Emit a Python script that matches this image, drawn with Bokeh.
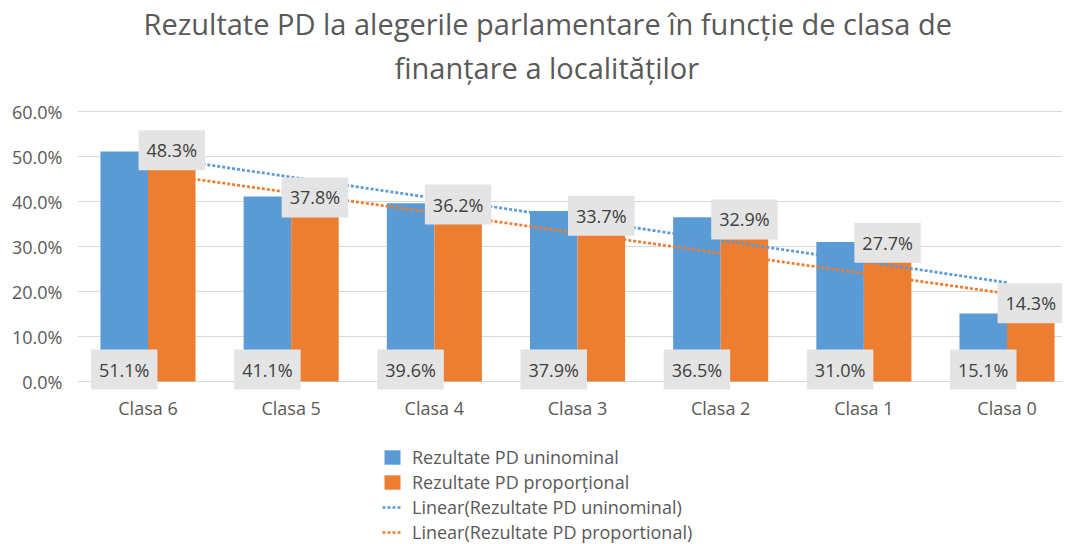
import numpy as np
from bokeh.plotting import figure
from bokeh.layouts import column
from bokeh.models import (ColumnDataSource, Range1d, FixedTicker, PrintfTickFormatter,
                          Legend, LegendItem, Title)
from bokeh.core.properties import value
from bokeh.transform import dodge
from bokeh.embed import file_html
from bokeh.resources import INLINE

categories = ["Clasa 6", "Clasa 5", "Clasa 4", "Clasa 3", "Clasa 2", "Clasa 1", "Clasa 0"]
uninominal = [51.1, 41.1, 39.6, 37.9, 36.5, 31.0, 15.1]
proportional = [48.3, 37.8, 36.2, 33.7, 32.9, 27.7, 14.3]
y_ticks = [0, 10, 20, 30, 40, 50, 60]
title_lines = ["Rezultate PD la alegerile parlamentare în funcție de clasa de",
               "finanțare a localităților"]
series_names = ["Rezultate PD uninominal", "Rezultate PD proporțional",
                "Linear(Rezultate PD uninominal)", "Linear(Rezultate PD proportional)"]

BLUE = "#5b9bd5"
ORANGE = "#ed7d31"
GRID = "#d9d9d9"
TEXT = "#595959"
FONT = "Open Sans"
TITLE_FONT = "Open Sans"

idx = np.arange(len(categories))
# linear trendlines (least squares, like Excel)
b_fit = np.polyfit(idx, uninominal, 1)
o_fit = np.polyfit(idx, proportional, 1)

src = ColumnDataSource(dict(
    x=idx, cat=categories, u=uninominal, p=proportional,
    zero=[0] * len(categories),
    u_lbl=[f"{v:.1f}%" for v in uninominal],
    p_lbl=[f"{v:.1f}%" for v in proportional],
    u_trend=np.polyval(b_fit, idx), p_trend=np.polyval(o_fit, idx),
))

BW = 0.332
W = 1062
p = figure(width=W, height=430, output_backend="svg", toolbar_location=None,
           x_range=Range1d(-0.4924, 6.3875), y_range=Range1d(-2, 64.6667),
           min_border_left=77, min_border_right=0, min_border_top=90, min_border_bottom=40,
           title=None)
p.outline_line_color = None
p.background_fill_color = "white"
p.border_fill_color = "white"

rb = p.vbar(x=dodge("x", -BW / 2), top="u", width=BW, source=src, fill_color=BLUE, line_color=None)
ro = p.vbar(x=dodge("x", BW / 2), top="p", width=BW, source=src, fill_color=ORANGE, line_color=None)
lb = p.line("x", "u_trend", source=src, line_color=BLUE, line_width=2.7, line_dash="3 2")
lo = p.line("x", "p_trend", source=src, line_color=ORANGE, line_width=2.7, line_dash="3 2")

common = dict(text_font=value(FONT), text_font_size="18px", text_color="#404040",
              text_align="center", text_baseline="middle",
              background_fill_color="#e4e4e4", padding=8, border_line_color=None)
p.text(x=dodge("x", -BW / 2), y="zero", text="u_lbl", y_offset=-12, source=src, **common)
p.text(x=dodge("x", BW / 2), y="p", text="p_lbl", y_offset=-14, source=src, **common)

# axes
p.xaxis.ticker = FixedTicker(ticks=list(idx))
p.xaxis.major_label_overrides = {int(i): c for i, c in zip(idx, categories)}
p.xaxis.axis_line_color = None
p.xaxis.major_tick_line_color = None
p.xaxis.minor_tick_line_color = None
p.xaxis.major_tick_out = 0
p.xaxis.minor_tick_out = 0
p.xaxis.major_label_standoff = 5
p.xaxis.major_label_text_font = FONT
p.xaxis.major_label_text_font_size = "18px"
p.xaxis.major_label_text_color = TEXT

p.yaxis.ticker = FixedTicker(ticks=y_ticks)
p.yaxis.formatter = PrintfTickFormatter(format="%.1f%%")
p.yaxis.axis_line_color = None
p.yaxis.major_tick_line_color = None
p.yaxis.minor_tick_line_color = None
p.yaxis.major_tick_out = 0
p.yaxis.minor_tick_out = 0
p.yaxis.major_label_standoff = 15
p.yaxis.major_label_text_font = FONT
p.yaxis.major_label_text_font_size = "18px"
p.yaxis.major_label_text_color = TEXT

p.xgrid.grid_line_color = None
p.ygrid.ticker = FixedTicker(ticks=y_ticks)
p.ygrid.grid_line_color = GRID
p.ygrid.grid_line_width = 1

# title: second line nearest the frame, first line above it
for line, off, so in zip(reversed(title_lines), [317, 66], [7, 0]):
    p.add_layout(Title(text=line, align="left", offset=off, standoff=so,
                       text_font=TITLE_FONT, text_font_size="29px",
                       text_font_style="normal", text_color=TEXT), "above")

# legend lives in a small strip below the chart
lg = figure(width=W, height=114, output_backend="svg", toolbar_location=None,
            x_range=Range1d(0, 1), y_range=Range1d(1000, 1001),
            x_axis_location=None, y_axis_location=None, min_border=0)
lg.outline_line_color = None
lg.grid.visible = False
gb = lg.vbar(x="x", top="u", width=BW, source=src, fill_color=BLUE, line_color=None)
go = lg.vbar(x="x", top="p", width=BW, source=src, fill_color=ORANGE, line_color=None)
gl1 = lg.line("x", "u_trend", source=src, line_color=BLUE, line_width=2.7, line_dash="3 2")
gl2 = lg.line("x", "p_trend", source=src, line_color=ORANGE, line_width=2.7, line_dash="3 2")

legend = Legend(items=[
    LegendItem(label=series_names[0], renderers=[gb]),
    LegendItem(label=series_names[1], renderers=[go]),
    LegendItem(label=series_names[2], renderers=[gl1]),
    LegendItem(label=series_names[3], renderers=[gl2]),
], location=(305, 0), orientation="vertical",
    glyph_width=20, glyph_height=18, label_height=22, spacing=1, padding=0, margin=0,
    label_standoff=10, label_text_font=FONT, label_text_font_size="18px",
    label_text_color=TEXT, border_line_color=None, background_fill_alpha=0)
lg.add_layout(legend, "center")

layout = column(p, lg, spacing=0)
open("out.html", "w").write(file_html(layout, INLINE))
